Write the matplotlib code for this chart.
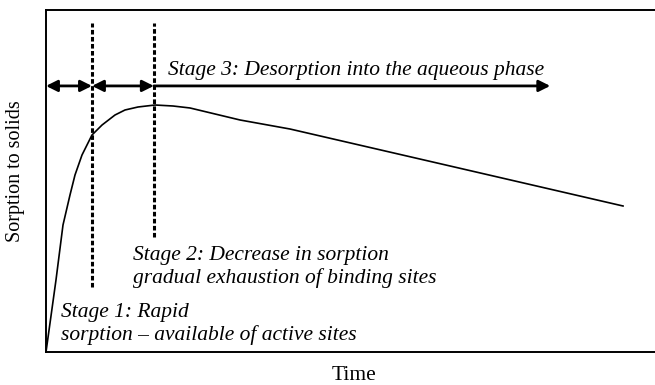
import matplotlib
matplotlib.use("Agg")
import matplotlib.pyplot as plt

plt.rcParams['font.family'] = ['Liberation Serif', 'DejaVu Serif']

# sorption curve (time, sorption), both 0-100
time = [0, 1.64, 2.79, 3.94, 4.76, 5.91, 7.55, 9.20, 11.33, 12.97, 15.11, 17.90,
        20.85, 23.65, 31.86, 40.07, 66.34, 94.75]
sorption = [0, 21.05, 37.13, 45.91, 51.75, 57.60, 63.45, 66.37, 69.30, 70.76, 71.64, 72.22,
            71.93, 71.35, 67.84, 65.20, 54.39, 42.69]

# stage boundaries and arrow positions
stage_bounds = [7.55, 17.7]
dash_bottoms = [19.0, 33.6]
dash_top = 96.2
arrow_y = 77.8
arrow_end = 82.8

stage_texts = [
    "Stage 1: Rapid\nsorption \u2013 available of active sites",
    "Stage 2: Decrease in sorption\ngradual exhaustion of binding sites",
    "Stage 3: Desorption into the aqueous phase",
]
text_pos = [(2.46, 3.5), (14.3, 20.2), (20.0, 81.0)]

fig = plt.figure(figsize=(6.55, 3.85), dpi=100)
ax = fig.add_axes([46 / 655, 33 / 385, 609 / 655, 342 / 385])
ax.set_xlim(0, 100)
ax.set_ylim(0, 100)

ax.plot(time, sorption, color='black', lw=1.2, solid_joinstyle='round')

for xb, yb in zip(stage_bounds, dash_bottoms):
    ax.plot([xb, xb], [yb, dash_top], color='black', lw=2.2, linestyle=(0, (1.5, 0.8)))

# arrows
arrow_kw = dict(color='black', lw=2.0, mutation_scale=17, shrinkA=0, shrinkB=0)
ax.annotate('', xy=(stage_bounds[0], arrow_y), xytext=(0, arrow_y),
            arrowprops=dict(arrowstyle='<|-|>', **arrow_kw))
ax.annotate('', xy=(stage_bounds[1], arrow_y), xytext=(stage_bounds[0], arrow_y),
            arrowprops=dict(arrowstyle='<|-|>', **arrow_kw))
ax.annotate('', xy=(arrow_end, arrow_y), xytext=(stage_bounds[1], arrow_y),
            arrowprops=dict(arrowstyle='-|>', **arrow_kw))

for txt, (tx, ty) in zip(stage_texts, text_pos):
    ax.text(tx, ty, txt, fontsize=15.5, style='italic', ha='left', va='baseline',
            linespacing=1.18)

ax.set_xticks([])
ax.set_yticks([])
ax.spines['right'].set_visible(False)
for s in ['left', 'bottom', 'top']:
    ax.spines[s].set_linewidth(1.4)

fig.text(354 / 655, 1 - 380 / 385, "Time", fontsize=15.5, ha='center', va='baseline')
fig.text(16 / 655, 1 - 171 / 385, "Sorption to solids", fontsize=14.5, rotation=90,
         ha='center', va='center')

fig.savefig("out.png", dpi=100)
